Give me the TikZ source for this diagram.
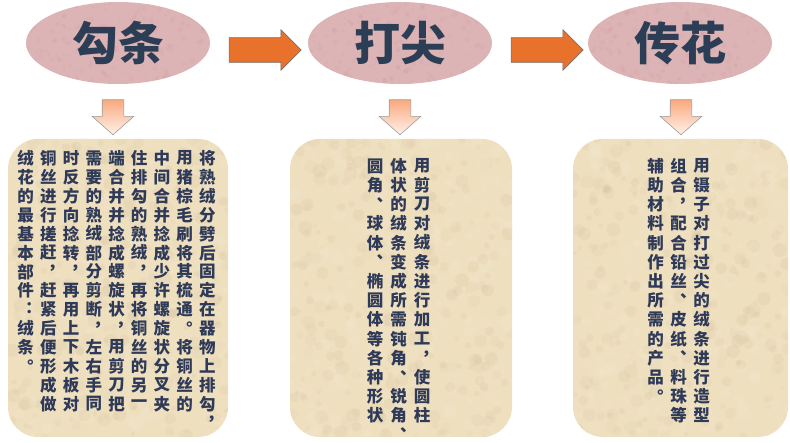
\documentclass[tikz,border=0pt]{standalone}
\usepackage{fontspec}
\usetikzlibrary{shapes.geometric,shapes.arrows}
\newfontfamily\cjk{Noto Sans CJK SC}[RawFeature=+vert]
\newfontfamily\cjktitle{Noto Sans CJK SC}
\definecolor{ellpink}{HTML}{DDB4B6}
\definecolor{ellspeck}{HTML}{C99A9E}
\definecolor{titleblue}{HTML}{2C3E55}
\definecolor{textblue}{HTML}{2E3A58}
\definecolor{parch}{HTML}{EEDFBF}
\definecolor{parchdark}{HTML}{CDB78E}
\definecolor{parchlight}{HTML}{F8EFDB}
\definecolor{arroworange}{HTML}{E8722C}
\definecolor{arrowedge}{HTML}{7A6A62}
\definecolor{downtop}{HTML}{F9A97E}
\definecolor{downbot}{HTML}{FFF2EA}
\definecolor{downedge}{HTML}{9C9C9C}
\newlength\cellw
\newlength\cellh
\def\vcolend{}
\def\vcolA#1{\ifx#1\vcolend\else\hbox to\cellw{\hss\vbox to\cellh{\vss\hbox{#1}\vss}\hss}\expandafter\vcolA\fi}
\newcommand\vcol[1]{\vtop{\offinterlineskip\vcolA#1\vcolend}}
\tikzset{
  x=1pt, y=-1pt,
  titleell/.style={ellipse, fill=ellpink, minimum width=184, minimum height=82, inner sep=0},
  titletext/.style={text=titleblue, font=\cjktitle\bfseries\fontsize{46}{46}\selectfont},
  flowarrow/.style={single arrow, fill=arroworange, draw=arrowedge, line width=0.6pt,
    minimum width=40, minimum height=72, single arrow head extend=8, inner xsep=0, inner ysep=12},
  downarrow/.style={single arrow, shape border rotate=270, top color=downtop, bottom color=downbot,
    draw=downedge, line width=0.6pt, minimum width=41, minimum height=35,
    single arrow head extend=10, single arrow tip angle=97, inner sep=10.5},
  parchbox/.style={rectangle, rounded corners=30, fill=parch, inner sep=0},
  coltext/.style={anchor=north west, inner sep=0, outer sep=0, text=textblue,
    font=\cjk\bfseries\fontsize{16.5}{16.5}\selectfont},
}
\newcommand\speckle[5]{% x0 y0 w h count
  \foreach \i in {1,...,#5}{
    \pgfmathsetmacro\sx{#1+rnd*#3}
    \pgfmathsetmacro\sy{#2+rnd*#4}
    \pgfmathsetmacro\sr{2+rnd*5}
    \pgfmathsetmacro\so{0.06+rnd*0.10}
    \fill[parchdark, opacity=\so] (\sx,\sy) circle[radius=\sr pt];
    \pgfmathsetmacro\sx{#1+rnd*#3}
    \pgfmathsetmacro\sy{#2+rnd*#4}
    \fill[parchlight, opacity=\so] (\sx,\sy) circle[radius=\sr pt];
  }}
\begin{document}
\begin{tikzpicture}
\pgfmathsetseed{4242}
\useasboundingbox (0,0) rectangle (790,443);
% titles
\node[titleell] (e1) at (118,43) {};
\node[titleell] (e2) at (400,43) {};
\node[titleell] (e3) at (680,43) {};
\foreach \cx in {118,400,680}{
  \begin{scope}
  \clip (\cx,43) ellipse[x radius=92, y radius=41];
  \foreach \i in {1,...,220}{
    \pgfmathsetmacro\sx{\cx-92+rnd*184}
    \pgfmathsetmacro\sy{2+rnd*82}
    \pgfmathsetmacro\sr{0.8+rnd*2}
    \fill[ellspeck, opacity=0.18] (\sx,\sy) circle[radius=\sr pt];
  }
  \end{scope}}
\node[titletext] (l1) at (e1.center) {勾条};
\node[titletext] (l2) at (e2.center) {打尖};
\node[titletext] (l3) at (e3.center) {传花};
% flow arrows
\node[flowarrow] (r1) at (259,50) {};
\node[flowarrow] (r2) at (541,50) {};
% down arrows
\node[downarrow] (d1) at (113,112.5) {};
\node[downarrow] (d2) at (400,112.5) {};
\node[downarrow] (d3) at (681,112.5) {};
% boxes
\node[parchbox, minimum width=220, minimum height=298] (b1) at (118,288) {};
\node[parchbox, minimum width=222, minimum height=298] (b2) at (401,288) {};
\node[parchbox, minimum width=215, minimum height=298] (b3) at (680.5,288) {};
\begin{scope}
\clip[rounded corners=30] (b1.south west) rectangle (b1.north east);
\speckle{8}{139}{220}{298}{260}
\end{scope}
\begin{scope}
\clip[rounded corners=30] (b2.south west) rectangle (b2.north east);
\speckle{290}{139}{222}{298}{260}
\end{scope}
\begin{scope}
\clip[rounded corners=30] (b3.south west) rectangle (b3.north east);
\speckle{573}{139}{215}{298}{260}
\end{scope}
% texts
\node[coltext] (t1) at (14.4,148.85) {\setlength\cellw{22.7pt}\setlength\cellh{18.9pt}\hbox{%
\vcol{绒花的最基本部件：绒条。}%
\vcol{铜丝进行搓赶，赶紧后便形成做}%
\vcol{时反方向捻转，再用上下木板对}%
\vcol{需要的熟绒部分剪断，左右手同}%
\vcol{端合并并捻成螺旋状，用剪刀把}%
\vcol{住排勾的熟绒，再将铜丝的另一}%
\vcol{中间合并捻成少许螺旋状分叉夹}%
\vcol{用猪棕毛刷将其梳通。将铜丝的}%
\vcol{将熟绒分劈后固定在器物上排勾，}}};
\node[coltext] (t2) at (363.2,156.4) {\setlength\cellw{23.6pt}\setlength\cellh{19.2pt}\hbox{%
\vcol{圆角、球体、椭圆体等各种形状}%
\vcol{体状的绒条变成所需钝角、锐角、}%
\vcol{用剪刀对绒条进行加工，使圆柱}}};
\node[coltext] (t3) at (644.2,156.4) {\setlength\cellw{23pt}\setlength\cellh{19.2pt}\hbox{%
\vcol{辅助材料制作出所需的产品。}%
\vcol{组合，配合铅丝、皮纸、料珠等}%
\vcol{用镊子对打过尖的绒条进行造型}}};
\end{tikzpicture}
\end{document}
